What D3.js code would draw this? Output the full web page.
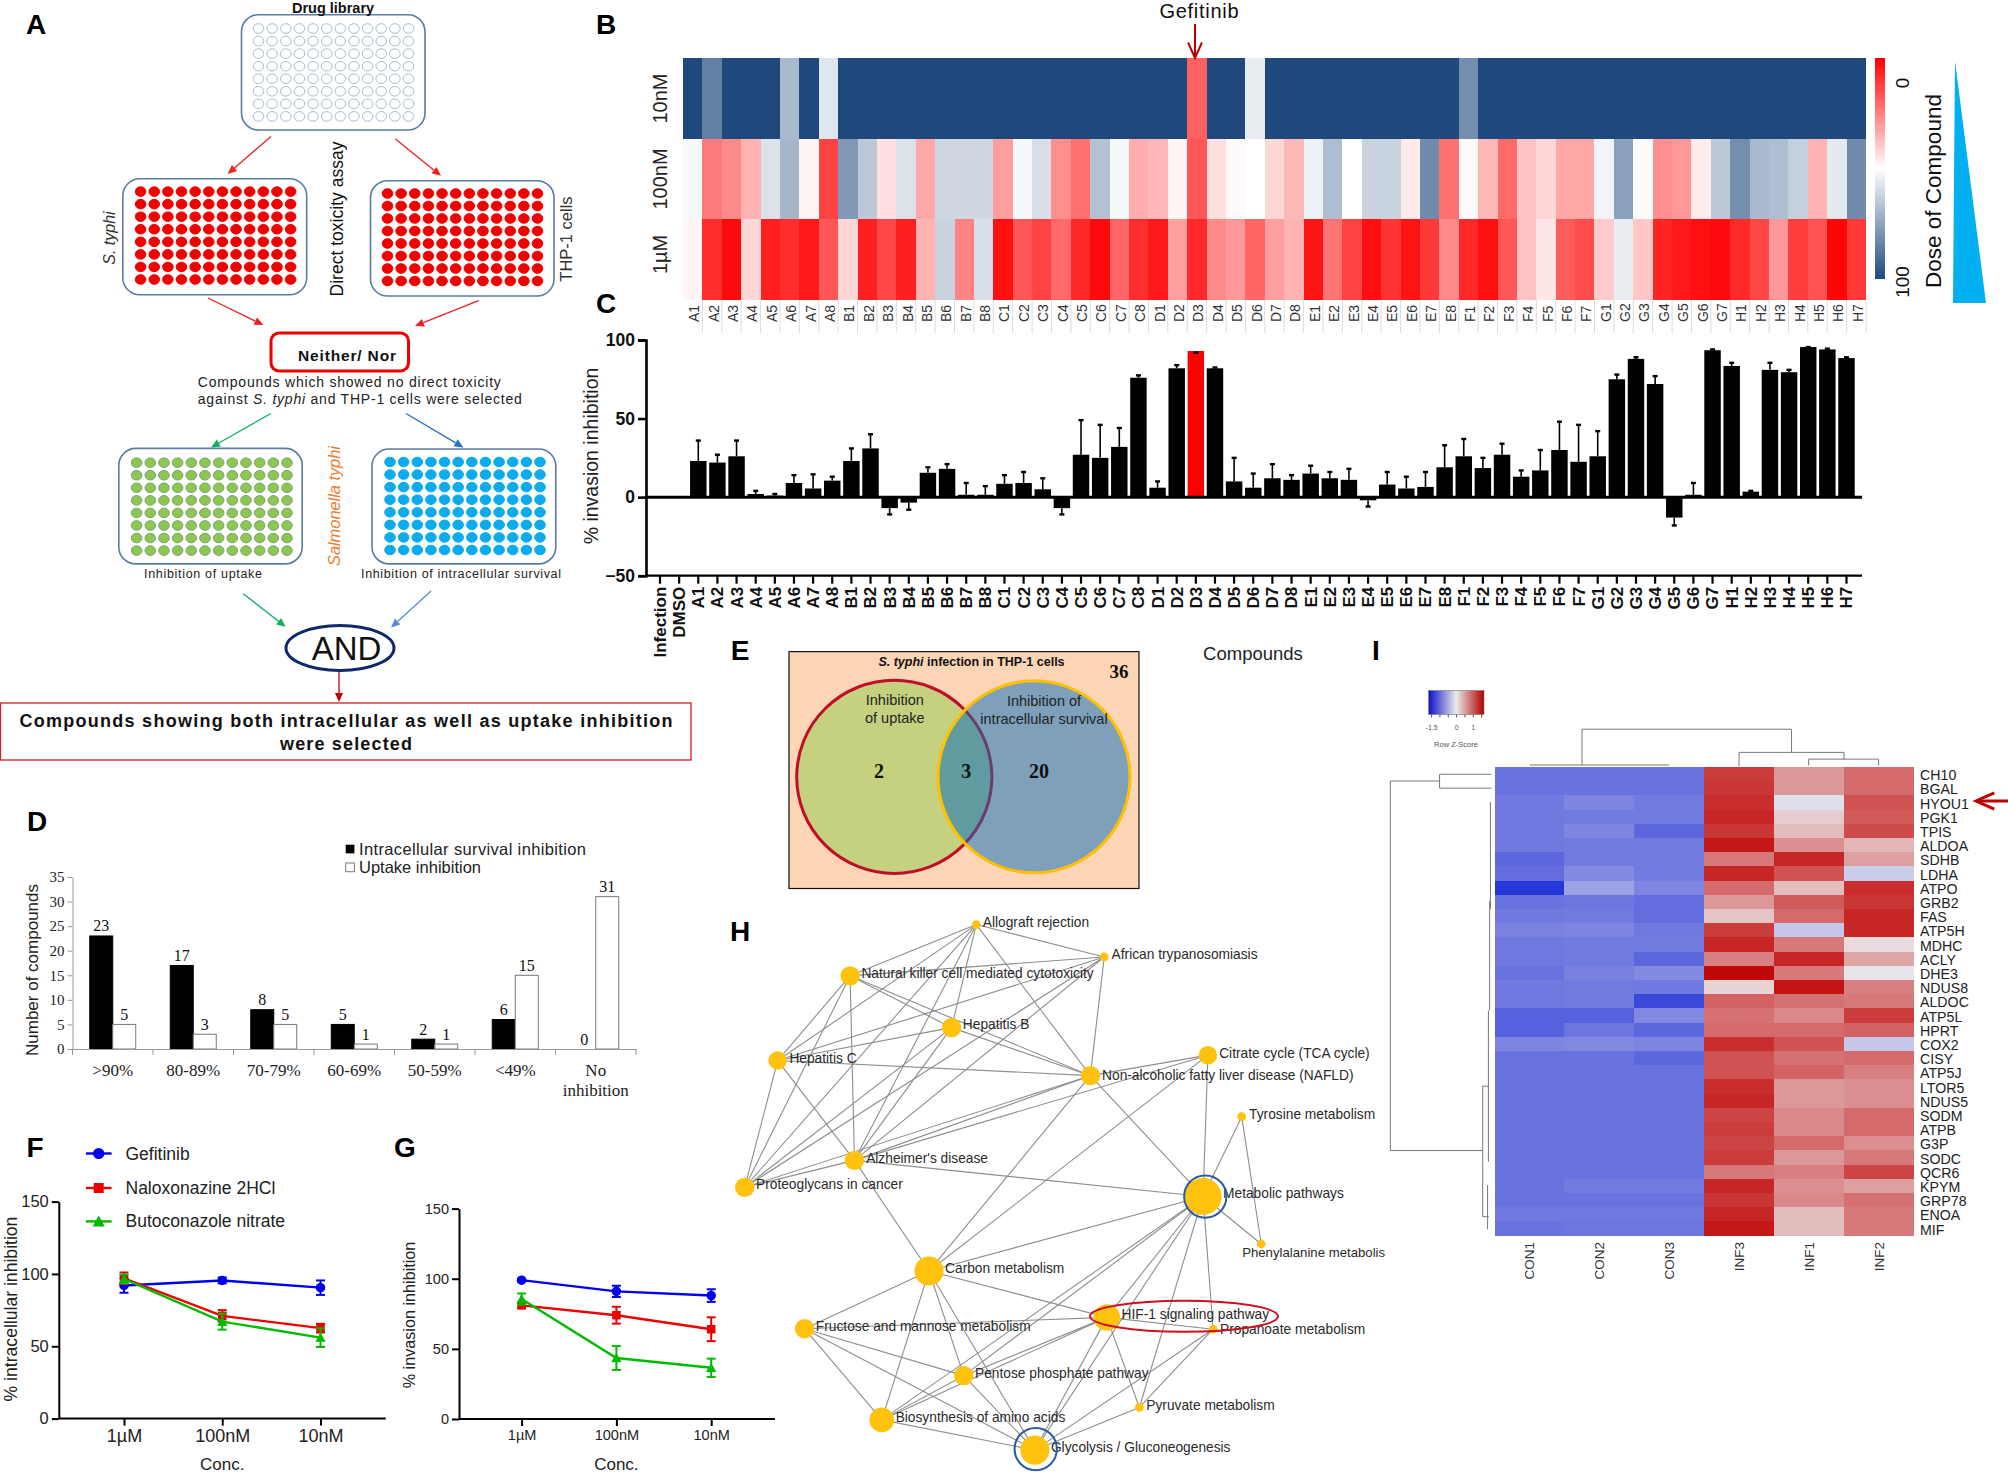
<!DOCTYPE html>
<html><head><meta charset="utf-8">
<script src="https://cdn.jsdelivr.net/npm/d3@7/dist/d3.min.js"></script>
<style>
html,body{margin:0;padding:0;background:#fff}
svg{display:block}
text{font-family:"Liberation Sans",Arial,sans-serif;fill:#111}
.serif{font-family:"Liberation Serif","Times New Roman",serif}
</style></head><body>
<svg id="fig" width="2008" height="1476" viewBox="0 0 2008 1476"></svg>
<script>
// ---------- DATA ----------
const compounds = ["A1","A2","A3","A4","A5","A6","A7","A8","B1","B2","B3","B4","B5","B6","B7","B8","C1","C2","C3","C4","C5","C6","C7","C8","D1","D2","D3","D4","D5","D6","D7","D8","E1","E2","E3","E4","E5","E6","E7","E8","F1","F2","F3","F4","F5","F6","F7","G1","G2","G3","G4","G5","G6","G7","H1","H2","H3","H4","H5","H6","H7"];
const doses = ["10nM","100nM","1µM"];
const heat10nM = [100,85,100,100,100,69,100,57,100,100,100,100,100,100,100,100,100,100,100,100,100,100,100,100,100,100,19,100,100,55,100,100,100,100,100,100,100,100,100,100,81,100,100,100,100,100,100,100,100,100,100,100,100,100,100,100,100,100,100,100,100];
const heat100nM = [52,24,27,35,58,70,48,13,78,65,44,58,33,61,61,61,31,52,59,28,22,67,52,34,36,48,17,44,49,50,42,36,54,68,50,62,62,46,82,22,49,36,21,38,42,33,33,53,76,51,28,30,46,65,81,69,68,63,35,56,82];
const heat1uM = [48,9,2,42,6,9,5,17,42,6,14,6,35,62,26,59,3,17,13,21,8,2,20,9,5,31,8,27,30,20,31,35,4,23,13,3,10,4,11,27,8,3,17,38,45,18,15,40,55,39,7,5,3,2,8,14,30,12,16,1,11];

const barCategories = ["Infection","DMSO"].concat(compounds);
const barValues = [0,0,23,22,26,2,1,9,5.5,10.5,23,31,-7,-3.5,15.5,18,1.5,1.5,8.5,9,5,-7,27,25,32,76,6,82,93,82,10,6,12,11,15,12,11,-2,8,5.5,6.5,19,26,18.5,27,13,17,30,22.5,26,75,88,72,-13,1.5,93.5,83.5,3.5,81,79.5,95.5,94,88.5];
const barErrorEnds = [0,0,36,27,36,4,2,14,14.5,13,31,40,-11,-8,19,21,9,7,14,16,12,-11,49,46,44,77.5,10,84,92,82.5,25,15,21,14,20,16,18,-6,16,13,16,33,37,25,34,17,30,48,46,42,78,89,77,-18,9,94,85.5,4,85.5,81,95.5,94.5,89];

const binLabels = [">90%","80-89%","70-79%","60-69%","50-59%","<49%","No inhibition"];
const survivalCounts = [23,17,8,5,2,6,0];
const uptakeCounts = [5,3,5,1,1,15,31];

const concLabels = ["1µM","100nM","10nM"];
const drugNames = ["Gefitinib","Naloxonazine 2HCl","Butoconazole nitrate"];
const drugColors = ["#0000ee","#ee0000","#00bb00"];
const intraMeans = [[92,95.5,90.5],[97,71,62.5],[96.5,67,56]];
const intraErrors = [[5,2,5],[4,4,3],[3,5.5,6.5]];
const invMeans = [[99,91,88],[81,74,64],[85.5,43.5,36.5]];
const invErrors = [[1,4,4.5],[2,6,8.5],[4,8.5,6.5]];

const vennCounts = [2,3,20];

// network: position given in layout units, weight = node size
const netNames = ["Allograft rejection","African trypanosomiasis","Natural killer cell mediated cytotoxicity","Hepatitis B","Hepatitis C","Non-alcoholic fatty liver disease (NAFLD)","Citrate cycle (TCA cycle)","Tyrosine metabolism","Alzheimer's disease","Proteoglycans in cancer","Metabolic pathways","Phenylalanine metabolis","Carbon metabolism","Fructose and mannose metabolism","HIF-1 signaling pathway","Propanoate metabolism","Pentose phosphate pathway","Pyruvate metabolism","Biosynthesis of amino acids","Glycolysis / Gluconeogenesis"];
const netX = [591,886,300,534,133,854,1125,1203,310,57,1114,1248,482,195,892,1137,562,967,373,726];
const netY = [546,606,641,737,798,826,788,902,983,1033,1050,1138,1188,1295,1274,1296,1382,1441,1464,1520];
const netWeight = [10,10,22,22,21,22,21,10,22,22,42,10,33,22,30,10,22,10,28,33];
const netLabelX = [606,903,326,560,160,881,1151,1220,337,83,1160,1204,519,221,926,1153,588,983,405,763];
const netLabelY = [542,601,637,732,795,826,784,898,979,1028,1045,1154,1184,1290,1268,1296,1378,1437,1460,1515];
const netEdges = [[0,1],[0,2],[0,4],[0,9],[0,8],[0,3],[0,5],[1,2],[1,4],[1,9],[1,8],[1,5],[2,3],[2,5],[2,4],[2,8],[2,9],[3,4],[3,5],[3,8],[3,9],[4,5],[4,8],[4,9],[5,6],[5,8],[5,9],[5,10],[5,12],[6,8],[6,10],[6,12],[7,10],[7,11],[8,9],[8,10],[8,12],[10,11],[10,12],[10,14],[10,15],[10,16],[10,17],[10,18],[10,19],[12,13],[12,14],[12,16],[12,18],[12,19],[13,14],[13,16],[13,18],[13,19],[14,15],[14,16],[14,17],[14,18],[14,19],[15,17],[15,19],[16,18],[16,19],[17,19],[18,19]];

const geneNames = ["CH10","BGAL","HYOU1","PGK1","TPIS","ALDOA","SDHB","LDHA","ATPO","GRB2","FAS","ATP5H","MDHC","ACLY","DHE3","NDUS8","ALDOC","ATP5L","HPRT","COX2","CISY","ATP5J","LTOR5","NDUS5","SODM","ATPB","G3P","SODC","QCR6","KPYM","GRP78","ENOA","MIF"];
const sampleNames = ["CON1","CON2","CON3","INF3","INF1","INF2"];
const geneZ = [
[-1,-1,-1,1.15,.55,.85],[-1,-1,-1,1.2,.55,.85],[-.95,-.85,-.93,1.25,-.1,1],[-.95,-.93,-.93,1.3,.2,.95],[-.95,-.85,-1.1,1.2,.3,1.05],
[-.95,-.93,-.93,1.4,.6,.35],[-1.1,-.93,-.93,.75,1.3,.5],[-1.05,-.8,-.93,1.3,1,-.25],[-1.5,-.6,-.85,.85,.3,1.25],[-1,-.97,-1.05,.55,.95,1.2],
[-.95,-.93,-1.05,.25,.85,1.3],[-.87,-.85,-.95,1.15,-.3,1.3],[-.95,-.93,-.93,1.3,.75,.1],[-.95,-.93,-1.1,.7,1.3,.45],[-1,-.88,-.8,1.5,.75,-.05],
[-.95,-.93,-.95,.15,1.42,.7],[-.95,-.93,-1.35,.9,.8,.75],[-1.15,-1.15,-.82,.8,.65,1.15],[-1.15,-.97,-1.1,.85,.85,.9],[-.85,-.82,-.85,1.25,1,-.3],
[-1,-1,-1.1,1,.8,.85],[-1,-1,-1,1,.9,.7],[-1,-1,-1,1.25,.55,.6],[-1,-1,-1,1.3,.55,.6],[-1,-1,-1,1.1,.65,.85],
[-1,-1,-1,1.15,.65,.85],[-1,-1,-1,1.1,.85,.6],[-1,-1,-1,1.15,.55,.75],[-1,-1,-1,.75,.7,1.1],[-1,-.93,-.93,1.3,.6,.5],
[-1,-1,-1,1.2,.65,.8],[-.95,-.95,-.95,1.3,.3,.75],[-1,-.97,-.97,1.4,.3,.75]];
// dendrogram segments in layout units
const dendroSegments = [[521,212,1036,212],[521,212,521,297],[392,297,735,297],[1036,212,1036,267],[907,267,1165,267],[907,267,907,300],[1165,267,1165,283],[1078,283,1250,283],[1078,283,1078,298],[1250,283,1250,298],
[50,335,50,1213],[50,335,171,335],[171,319,171,352],[171,319,298,319],[171,352,298,352],[50,1213,277,1213],[277,1060,277,1370],[277,1060,292,1060],[277,1370,292,1370],[296,385,296,640],[294,620,294,880],[291,880,291,1060],[291,1060,291,1240],[289,1295,289,1400]];

// ---------- HELPERS ----------
const svg = d3.select("#fig");
const defs = svg.append("defs");
function txt(x,y,s,o={}){
  const t = svg.append("text").attr("x",x).attr("y",y).attr("dominant-baseline","central")
    .attr("text-anchor",o.anchor||"middle").style("font-size",(o.size||14)+"px")
    .style("font-weight",o.bold?"bold":"normal").style("font-style",o.italic?"italic":"normal")
    .style("fill",o.fill||"#111");
  if(o.serif) t.classed("serif",true);
  if(o.rot!==undefined) t.attr("transform",`rotate(${o.rot} ${x} ${y})`);
  if(o.len) t.attr("textLength",o.len).attr("lengthAdjust","spacing");
  if(Array.isArray(s)) s.forEach(p=>t.append("tspan").style("font-style",p.i?"italic":"normal").text(p.t));
  else t.text(s);
  return t;
}
function arrow(a){
  const [x1,y1,x2,y2,c,w=1.3,h=9] = a, ang = Math.atan2(y2-y1,x2-x1);
  const bx=x2-h*Math.cos(ang), by=y2-h*Math.sin(ang), nx=-Math.sin(ang)*h*.45, ny=Math.cos(ang)*h*.45;
  svg.append("line").attr("x1",x1).attr("y1",y1).attr("x2",bx).attr("y2",by).attr("stroke",c).attr("stroke-width",w);
  svg.append("path").attr("d",d3.line()([[x2,y2],[bx+nx,by+ny],[bx-nx,by-ny]])+"Z").attr("fill",c);
}
function vArrow(x1,y1,x2,y2,c,w,h){
  const ang=Math.atan2(y2-y1,x2-x1);
  svg.append("line").attr("x1",x1).attr("y1",y1).attr("x2",x2).attr("y2",y2).attr("stroke",c).attr("stroke-width",w);
  const pts=[[x2-h*Math.cos(ang-.42),y2-h*Math.sin(ang-.42)],[x2,y2],[x2-h*Math.cos(ang+.42),y2-h*Math.sin(ang+.42)]];
  svg.append("path").attr("d",d3.line()(pts)).attr("fill","none").attr("stroke",c).attr("stroke-width",w);
}
[["A",36,24],["B",606,24],["C",606,303],["D",37,821],["E",740,650],["F",35,1147],["G",405,1147],["H",740,931],["I",1376,650]]
  .forEach(d=>txt(d[1],d[2],d[0],{bold:true,size:28,fill:"#000"}));

// ---------- A: schematic ----------
const plateCols=d3.range(12), plateRows=d3.range(8);
function plate(x0,x1,y0,y1,cx0,cx1,cy0,cy1,fill,stroke){
  svg.append("rect").attr("x",x0).attr("y",y0).attr("width",x1-x0).attr("height",y1-y0).attr("rx",17).attr("ry",17)
    .attr("fill","#fff").attr("stroke","#5b7ba5").attr("stroke-width",1.6);
  const sx=d3.scalePoint(plateCols,[cx0,cx1]), sy=d3.scalePoint(plateRows,[cy0,cy1]);
  svg.append("g").selectAll("ellipse").data(d3.cross(plateCols,plateRows)).join("ellipse")
    .attr("cx",d=>sx(d[0])).attr("cy",d=>sy(d[1])).attr("rx",5.3).attr("ry",4.8)
    .attr("fill",fill).attr("stroke",stroke).attr("stroke-width",1);
}
plate(241.5,425,14.7,130,258.5,408.5,28.5,116.4,"none","#a9bad2");
plate(122.8,306.7,178.8,294.7,140.6,290.6,191.6,279.5,"#f00000","#f00000");
plate(370.5,554,180.7,296,387.5,537.5,193.5,281,"#f00000","#f00000");
plate(118.8,302.2,448.4,563.9,136.6,287,462.7,550.6,"#8cc850","#7f9f78");
plate(372,555.8,449,563.9,390,540,462,550,"#0cabee","#0cabee");
const flowArrows=[[271,136.5,227.7,173.9,"#ee2020"],[395.5,139,441,175.8,"#ee2020"],[208,298,263.4,325,"#ee2020"],[478.6,300.6,415,326,"#ee2020"],[271,413.5,211,447.4,"#10b060"],[406,413.5,463.4,447.4,"#2a70c0"],[243.3,593.8,285.7,626.7,"#10b060"],[431,591,391,627.6,"#5a8ad0"],[339,671,339,702,"#c00000"]];
flowArrows.forEach(arrow);
txt(333,7.5,"Drug library",{bold:true,size:14.5});
txt(337,219,"Direct toxicity assay",{size:17.5,rot:-90,len:155});
txt(108.5,238,[{t:"S. typhi",i:1}],{size:16,rot:-90,fill:"#333"});
txt(566,239,"THP-1 cells",{size:16.5,rot:-90,fill:"#333"});
txt(334,506,"Salmonella typhi",{size:16.5,italic:true,rot:-90,fill:"#ed7d31",len:120});
svg.append("rect").attr("x",271).attr("y",333).attr("width",137.5).attr("height",38).attr("rx",8).attr("fill","#fff").attr("stroke","#ee0000").attr("stroke-width",3);
txt(347,355,"Neither/ Nor",{bold:true,size:15.5,len:98});
txt(197.8,381.6,"Compounds which showed no direct toxicity",{anchor:"start",size:14,len:303,fill:"#222"});
txt(197.8,399,[{t:"against "},{t:"S. typhi",i:1},{t:" and THP-1 cells were selected"}],{anchor:"start",size:14,len:324,fill:"#222"});
txt(203,574,"Inhibition of uptake",{size:12.5,len:118,fill:"#222"});
txt(461,574,"Inhibition of intracellular survival",{size:12.5,len:200,fill:"#222"});
svg.append("ellipse").attr("cx",340).attr("cy",648).attr("rx",54).attr("ry",22.6).attr("fill","#fff").attr("stroke","#0f2a6b").attr("stroke-width",3);
txt(346.5,648.5,"AND",{size:33});
svg.append("rect").attr("x",0.5).attr("y",703).attr("width",690.5).attr("height",57).attr("fill","#fff").attr("stroke","#d02020").attr("stroke-width",1.3);
txt(346,720.5,"Compounds showing both intracellular as well as uptake inhibition",{bold:true,size:18,len:653});
txt(346,743.5,"were selected",{bold:true,size:18,len:132});

// ---------- B: dose heatmap ----------
const heatColor=d3.scaleLinear().domain([0,50,100]).range(["#ff0000","#ffffff","#1f497d"]);
const bx=d3.scaleBand().domain(compounds).range([683,1866]);
const by=d3.scaleBand().domain(doses).range([58.3,299.7]);
const heatRows=[heat10nM,heat100nM,heat1uM];
doses.forEach((dose,r)=>{
  svg.append("g").attr("shape-rendering","crispEdges").selectAll("rect").data(compounds).join("rect")
    .attr("x",d=>bx(d)).attr("y",by(dose)).attr("width",bx.bandwidth()+.4).attr("height",by.bandwidth()+.4)
    .attr("fill",(d,i)=>heatColor(heatRows[r][i]));
  txt(660,by(dose)+by.bandwidth()/2-(r==2?5:0),dose,{rot:-90,size:20,fill:"#222"});
});
svg.append("g").selectAll("line").data(compounds).join("line")
  .attr("x1",d=>bx(d)+bx.bandwidth()).attr("x2",d=>bx(d)+bx.bandwidth()).attr("y1",300).attr("y2",333).attr("stroke","#dcdcdc");
compounds.forEach(c=>txt(bx(c)+bx.bandwidth()/2+1.5,322,c,{rot:-90,anchor:"start",size:14,fill:"#333"}));
const cbGrad=defs.append("linearGradient").attr("id","cb").attr("x1",0).attr("x2",0).attr("y1",0).attr("y2",1);
[0,50,100].forEach(v=>cbGrad.append("stop").attr("offset",v+"%").attr("stop-color",heatColor(v)));
svg.append("rect").attr("x",1875).attr("y",58).attr("width",10).attr("height",221).attr("fill","url(#cb)");
txt(1902,83,"0",{rot:-90,size:19});
txt(1902,282,"100",{rot:-90,size:19});
txt(1933,191,"Dose of Compound",{rot:-90,size:22.5});
svg.append("path").attr("d","M1955,61 L1953,303 L1986,303 Z").attr("fill","#00b0f0");
txt(1199,11,"Gefitinib",{size:20,len:79});
vArrow(1195,24,1195,58,"#c00000",2,17);

// ---------- C: invasion bars ----------
const cx=d3.scaleBand().domain(barCategories).range([649.1,1857.4]).padding(.14);
const cy=d3.scaleLinear().domain([-50,100]).range([575.7,340]);
const cG=svg.append("g");
cG.selectAll("rect").data(barCategories).join("rect")
  .attr("x",d=>cx(d)).attr("width",cx.bandwidth())
  .attr("y",(d,i)=>cy(Math.max(0,barValues[i]))).attr("height",(d,i)=>Math.abs(cy(barValues[i])-cy(0)))
  .attr("fill",d=>d==="D3"?"#ff0000":"#000");
barCategories.forEach((c,i)=>{
  if(barValues[i]===0) return;
  const m=cx(c)+cx.bandwidth()/2;
  cG.append("line").attr("x1",m).attr("x2",m).attr("y1",cy(barValues[i])).attr("y2",cy(barErrorEnds[i])).attr("stroke","#000").attr("stroke-width",1.6);
  cG.append("line").attr("x1",m-2.5).attr("x2",m+2.5).attr("y1",cy(barErrorEnds[i])).attr("y2",cy(barErrorEnds[i])).attr("stroke","#000").attr("stroke-width",2.4);
});
svg.append("line").attr("x1",646).attr("x2",1862).attr("y1",cy(0)).attr("y2",cy(0)).attr("stroke","#000").attr("stroke-width",3);
const cAxisY=svg.append("g").attr("transform","translate(646,0)").call(d3.axisLeft(cy).tickValues([-50,0,50,100]).tickSize(8));
cAxisY.selectAll("text").style("font-size","17.5px").style("font-weight","bold").style("font-family","Liberation Sans").style("fill","#111");
cAxisY.selectAll("line,path").attr("stroke","#000").attr("stroke-width",2.6);
const cAxisX=svg.append("g").attr("transform","translate(0,575.7)").call(d3.axisBottom(cx).tickSize(8).tickSizeOuter(0));
cAxisX.select("path").attr("d","M646,0H1862");
cAxisX.selectAll("line,path").attr("stroke","#000").attr("stroke-width",2.2);
cAxisX.selectAll("text").attr("transform","rotate(-90)").attr("text-anchor","end").attr("x",-11).attr("y",0).attr("dy","0.35em")
  .style("font-size","17px").style("font-weight","bold").style("font-family","Liberation Sans").style("fill","#111");
txt(591,456,"% invasion inhibition",{rot:-90,size:19.5,fill:"#222"});
txt(1253,653,"Compounds",{size:18.5,fill:"#222"});

// ---------- D: histogram ----------
const dx0=d3.scaleBand().domain(binLabels).range([72.5,636]);
const dx1=d3.scaleBand().domain(["s","u"]).range([dx0.bandwidth()/2-23,dx0.bandwidth()/2+23]);
const dy=d3.scaleLinear().domain([0,35]).range([1049,877]);
binLabels.forEach((b,i)=>{
  [["s",survivalCounts[i],"#000","#000"],["u",uptakeCounts[i],"#fff","#777"]].forEach(r=>{
    const x=dx0(b)+dx1(r[0]);
    if(r[1]>0) svg.append("rect").attr("x",x).attr("width",dx1.bandwidth()).attr("y",dy(r[1])).attr("height",dy(0)-dy(r[1])).attr("fill",r[2]).attr("stroke",r[3]).attr("stroke-width",1);
    txt(x+dx1.bandwidth()/2,dy(r[1])-10,String(r[1]),{serif:true,size:16});
  });
});
const dAxY=svg.append("g").attr("transform","translate(72.5,0)").call(d3.axisLeft(dy).tickValues(d3.range(0,36,5)).tickSize(5).tickSizeOuter(0));
dAxY.selectAll("text").style("font-size","15px").style("font-family","Liberation Serif").style("fill","#222");
dAxY.selectAll("line,path").attr("stroke","#999");
const dAxX=svg.append("g").attr("transform","translate(0,1049)").call(d3.axisBottom(dx0).tickFormat("").tickSize(0));
dAxX.selectAll("path").attr("stroke","#999");
svg.append("g").selectAll("line").data(binLabels.concat("end")).join("line")
  .attr("x1",(d,i)=>72.5+i*dx0.bandwidth()).attr("x2",(d,i)=>72.5+i*dx0.bandwidth()).attr("y1",1049).attr("y2",1055).attr("stroke","#999");
binLabels.forEach(b=>{
  const m=dx0(b)+dx0.bandwidth()/2;
  if(b==="No inhibition"){txt(m,1070,"No",{serif:true,size:17,fill:"#222"});txt(m,1090.5,"inhibition",{serif:true,size:17,fill:"#222"});}
  else txt(m,1070,b,{serif:true,size:17,fill:"#222"});
});
txt(32,970,"Number of compounds",{rot:-90,size:17,fill:"#222"});
svg.append("rect").attr("x",345.7).attr("y",844.7).attr("width",8.7).attr("height",8.7).attr("fill","#000");
svg.append("rect").attr("x",345.7).attr("y",863).attr("width",8.7).attr("height",8.7).attr("fill","#fff").attr("stroke","#777");
txt(359,849,"Intracellular survival inhibition",{anchor:"start",size:16.5,len:227,fill:"#222"});
txt(359,867.4,"Uptake inhibition",{anchor:"start",size:16.5,fill:"#222"});

// ---------- E: venn ----------
svg.append("rect").attr("x",789).attr("y",651.6).attr("width",350).attr("height",236.9).attr("fill","#fcd5b5").attr("stroke","#111").attr("stroke-width",1.2);
txt(971.5,662,[{t:"S. typhi",i:1},{t:" infection in THP-1 cells"}],{bold:true,size:12.5});
txt(1119,671.5,"36",{bold:true,serif:true,size:19});
const vennL={cx:894.3,cy:776.8,rx:97.6,ry:96.6}, vennR={cx:1034,cy:776.8,rx:96,ry:96};
const ell=(p,o)=>svg.append("ellipse").attr("cx",p.cx).attr("cy",p.cy).attr("rx",p.rx).attr("ry",p.ry).attr("fill",o.fill).attr("stroke",o.stroke||"none").attr("stroke-width",3);
defs.append("clipPath").attr("id","clipR").append("ellipse").attr("cx",vennR.cx).attr("cy",vennR.cy).attr("rx",vennR.rx).attr("ry",vennR.ry);
ell(vennL,{fill:"#c5d17f",stroke:"#c00d2b"});
ell(vennR,{fill:"#7ea0ba"});
ell(vennL,{fill:"#609c9f",stroke:"#6b3c6e"}).attr("clip-path","url(#clipR)");
ell(vennR,{fill:"none",stroke:"#ffc000"});
txt(894.8,700,"Inhibition",{size:14.5,fill:"#222"});txt(894.8,718,"of uptake",{size:14.5,fill:"#222"});
txt(1044,700.7,"Inhibition of",{size:14.5,fill:"#222"});txt(1044,718.5,"intracellular  survival",{size:14.5,fill:"#222"});
[879,966.3,1039].forEach((x,i)=>txt(x,771.4,String(vennCounts[i]),{bold:true,serif:true,size:20}));

// ---------- F, G: dose response ----------
function marker(g,i,x,y,s){
  if(i===0) g.append("circle").attr("cx",x).attr("cy",y).attr("r",s*.56).attr("fill",drugColors[i]);
  if(i===1) g.append("rect").attr("x",x-s/2).attr("y",y-s/2).attr("width",s).attr("height",s).attr("fill",drugColors[i]);
  if(i===2) g.append("path").attr("transform",`translate(${x},${y})`).attr("d",d3.line()([[0,-s*.6],[s*.6,s*.5],[-s*.6,s*.5]])+"Z").attr("fill",drugColors[i]);
}
function doseChart(o){
  const x=d3.scalePoint().domain(concLabels).range(o.xr), y=d3.scaleLinear().domain([0,150]).range(o.yr);
  const g=svg.append("g");
  o.means.forEach((m,i)=>{
    g.append("path").datum(m).attr("fill","none").attr("stroke",drugColors[i]).attr("stroke-width",2.4)
      .attr("d",d3.line().x((d,j)=>x(concLabels[j])).y(d=>y(d)));
    m.forEach((v,j)=>{
      const px=x(concLabels[j]), e=o.errs[i][j];
      g.append("line").attr("x1",px).attr("x2",px).attr("y1",y(v-e)).attr("y2",y(v+e)).attr("stroke",drugColors[i]).attr("stroke-width",2);
      [v-e,v+e].forEach(c=>g.append("line").attr("x1",px-4.5).attr("x2",px+4.5).attr("y1",y(c)).attr("y2",y(c)).attr("stroke",drugColors[i]).attr("stroke-width",2));
      marker(g,i,px,y(v),8.5);
    });
  });
  const ay=svg.append("g").attr("transform",`translate(${o.x0},0)`).call(d3.axisLeft(y).tickValues([0,50,100,150]).tickSize(7).tickSizeOuter(0));
  ay.selectAll("text").style("font-size",o.fs+"px").style("font-family","Liberation Sans").style("fill","#222");
  ay.selectAll("line,path").attr("stroke","#000").attr("stroke-width",2);
  const ax=svg.append("g").attr("transform",`translate(0,${o.yr[0]})`).call(d3.axisBottom(x).tickSize(7).tickSizeOuter(0));
  ax.select("path").attr("d",`M${o.x0},0H${o.x1}`);
  ax.selectAll("line,path").attr("stroke","#000").attr("stroke-width",2);
  ax.selectAll("text").attr("y",11).style("font-size",o.xfs+"px").style("font-family","Liberation Sans").style("fill","#222");
  txt(x("100nM"),o.concY,"Conc.",{size:o.cfs,fill:"#222"});
  txt(o.titleX,o.titleY,o.title,{rot:-90,size:o.tfs,fill:"#222"});
}
doseChart({xr:[124,320.5],yr:[1418.6,1201.6],x0:58.8,x1:385.7,means:intraMeans,errs:intraErrors,fs:16.5,xfs:18,tfs:17.6,cfs:17,concY:1464,titleX:11,titleY:1309,title:"% intracellular inhibition"});
doseChart({xr:[521.6,711.2],yr:[1419,1208.6],x0:459,x1:775,means:invMeans,errs:invErrors,fs:14.5,xfs:14.5,tfs:16.2,cfs:17,concY:1464,titleX:408.6,titleY:1315,title:"% invasion inhibition"});
const legendY=[1153.5,1188,1221.4];
drugNames.forEach((n,i)=>{
  svg.append("line").attr("x1",85.9).attr("x2",111.6).attr("y1",legendY[i]).attr("y2",legendY[i]).attr("stroke",drugColors[i]).attr("stroke-width",2.4);
  marker(svg,i,98.7,legendY[i],10);
  txt(125.5,legendY[i],n,{anchor:"start",size:17.5,fill:"#222"});
});

// ---------- H: network ----------
const nx=d3.scaleLinear().domain([0,1568]).range([720,1400]);
const ny=d3.scaleLinear().domain([0,1568]).range([630,1476]);
const nr=d3.scaleLinear().domain([0,42]).range([0,18.5]);
svg.append("g").selectAll("line").data(netEdges).join("line")
  .attr("x1",d=>nx(netX[d[0]])).attr("y1",d=>ny(netY[d[0]])).attr("x2",d=>nx(netX[d[1]])).attr("y2",d=>ny(netY[d[1]]))
  .attr("stroke","#8e8e8e").attr("stroke-width",1.1);
svg.append("g").selectAll("circle").data(netNames).join("circle")
  .attr("cx",(d,i)=>nx(netX[i])).attr("cy",(d,i)=>ny(netY[i])).attr("r",(d,i)=>nr(netWeight[i])).attr("fill","#ffc20e");
netNames.forEach((n,i)=>txt(nx(netLabelX[i]),ny(netLabelY[i]),n,{anchor:"start",size:i===11?13.2:13.75,fill:"#2a2a2a"}));
[[10,1119,1050],[19,728,1518]].forEach(d=>svg.append("circle").attr("cx",nx(d[1])).attr("cy",ny(d[2])).attr("r",nr(48)).attr("fill","none").attr("stroke","#2b5c9e").attr("stroke-width",2));
svg.append("ellipse").attr("cx",nx(1070)).attr("cy",ny(1272)).attr("rx",94).attr("ry",15.5).attr("fill","none").attr("stroke","#cc1122").attr("stroke-width",2);

// ---------- I: proteomic heatmap ----------
const ix=d3.scaleBand().domain(sampleNames).range([1494.5,1914]);
const iy=d3.scaleBand().domain(geneNames).range([767,1235.6]);
const zColor=d3.scaleLinear().domain([-1.65,0,1.55]).range(["#1425d6","#eceaec","#c00000"]);
geneNames.forEach((g,r)=>{
  svg.append("g").attr("shape-rendering","crispEdges").selectAll("rect").data(sampleNames).join("rect")
    .attr("x",d=>ix(d)).attr("y",iy(g)).attr("width",ix.bandwidth()+.4).attr("height",iy.bandwidth()+.4)
    .attr("fill",(d,c)=>zColor(geneZ[r][c]));
  txt(1920,iy(g)+iy.bandwidth()/2+1,g,{anchor:"start",size:14.2,fill:"#222"});
});
sampleNames.forEach(s=>txt(ix(s)+ix.bandwidth()/2,1242,s,{rot:-90,anchor:"end",size:13.5,fill:"#333"}));
const dsx=d3.scaleLinear().domain([0,1568]).range([1370,2008]), dsy=d3.scaleLinear().domain([0,1568]).range([640,1300]);
svg.append("g").selectAll("line").data(dendroSegments).join("line")
  .attr("x1",d=>dsx(d[0])).attr("y1",d=>dsy(d[1])).attr("x2",d=>dsx(d[2])).attr("y2",d=>dsy(d[3]))
  .attr("stroke","#777").attr("stroke-width",1);
const kx=d3.scaleLinear().domain([-1.65,1.67]).range([1428.6,1484]);
const kGrad=defs.append("linearGradient").attr("id","zk");
[0,.25,.5,.75,1].forEach(t=>{const v=-1.65+t*3.32;kGrad.append("stop").attr("offset",t*100+"%").attr("stop-color",d3.scaleLinear().domain([-1.65,0,1.67]).range(["#0a10c8","#eceaec","#b00000"])(v));});
svg.append("rect").attr("x",1428.6).attr("y",690.5).attr("width",55.4).attr("height",24).attr("fill","url(#zk)").attr("stroke","#777").attr("stroke-width",.6);
const kAx=svg.append("g").attr("transform","translate(0,714.5)").call(d3.axisBottom(kx).tickValues([-1.5,-1,-.5,0,.5,1,1.5]).tickSize(3).tickSizeOuter(0).tickFormat(d=>[-1.5,0,1].includes(d)?d:""));
kAx.select("path").remove();
kAx.selectAll("line").attr("stroke","#555");
kAx.selectAll("text").attr("y",11).style("font-size","7px").style("fill","#555").style("font-family","Liberation Sans");
txt(1456,744,"Row Z-Score",{size:7.5,fill:"#555"});
vArrow(2008,801,1976,801,"#c00000",3,20);
</script>
</body></html>
